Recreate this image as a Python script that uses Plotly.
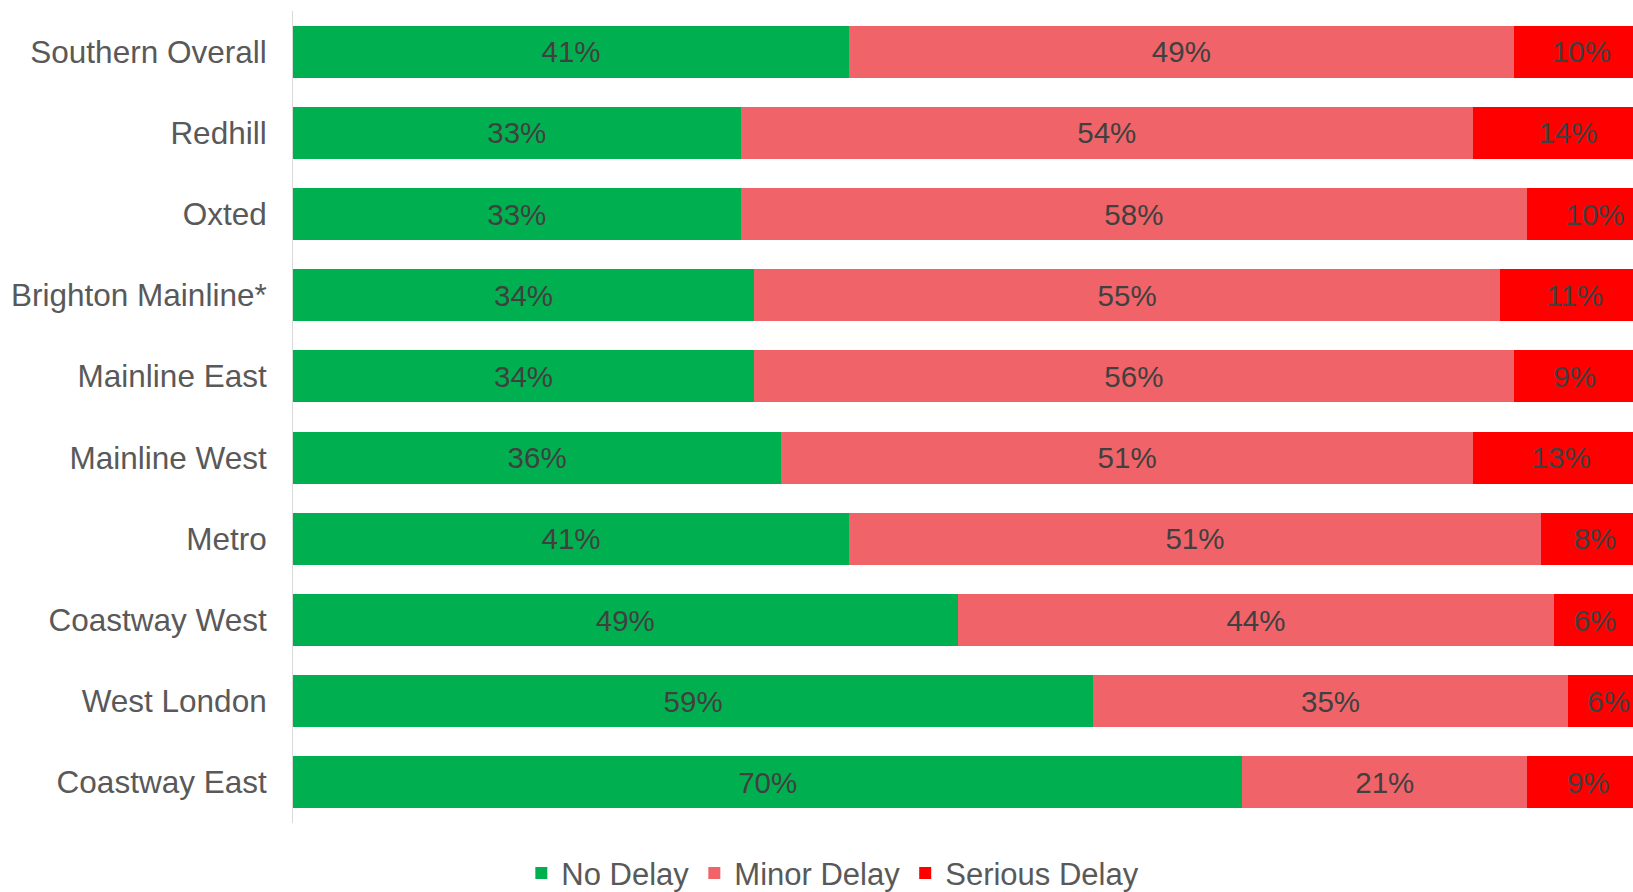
import plotly.graph_objects as go

# Delay categories per route, top to bottom
routes = [
    "Southern Overall", "Redhill", "Oxted", "Brighton Mainline*", "Mainline East",
    "Mainline West", "Metro", "Coastway West", "West London", "Coastway East",
]
no_delay = [41, 33, 33, 34, 34, 36, 41, 49, 59, 70]
minor_delay = [49, 54, 58, 55, 56, 51, 51, 44, 35, 21]
serious_delay = [10, 14, 10, 11, 9, 13, 8, 6, 6, 9]

series = [
    ("No Delay", no_delay, "#00B050"),
    ("Minor Delay", minor_delay, "#F06469"),
    ("Serious Delay", serious_delay, "#FF0000"),
]

FONT = "Liberation Sans, Arial, sans-serif"

fig = go.Figure()
for name, vals, color in series:
    fig.add_trace(go.Bar(
        name=name,
        y=routes,
        x=vals,
        orientation="h",
        marker=dict(color=color, line=dict(width=0)),
        text=[f"{v}%" for v in vals],
        textposition="inside",
        insidetextanchor="middle",
        textfont=dict(family=FONT, size=29.5, color="#404040"),
        constraintext="none",
        hoverinfo="skip",
    ))

fig.update_layout(
    barmode="stack",
    bargap=0.36,
    width=1633,
    height=892,
    margin=dict(l=293, r=0, t=11, b=69),
    paper_bgcolor="white",
    plot_bgcolor="white",
    font=dict(family=FONT, color="#595959"),
    showlegend=True,
    legend=dict(
        orientation="h",
        xref="container",
        yref="container",
        x=0.51,
        xanchor="center",
        y=0.021,
        yanchor="middle",
        font=dict(family=FONT, size=31, color="#595959"),
        traceorder="normal",
        itemclick=False,
        itemdoubleclick=False,
    ),
)

fig.update_xaxes(
    range=[0, 98.8],
    showgrid=False,
    zeroline=False,
    showline=False,
    showticklabels=False,
    fixedrange=True,
)
fig.update_yaxes(
    autorange="reversed",
    showgrid=False,
    zeroline=False,
    showline=True,
    linecolor="#D9D9D9",
    linewidth=1,
    ticks="",
    ticklabelstandoff=19,
    tickfont=dict(family=FONT, size=31.5, color="#595959"),
    fixedrange=True,
)

fig.write_html("out.html")
